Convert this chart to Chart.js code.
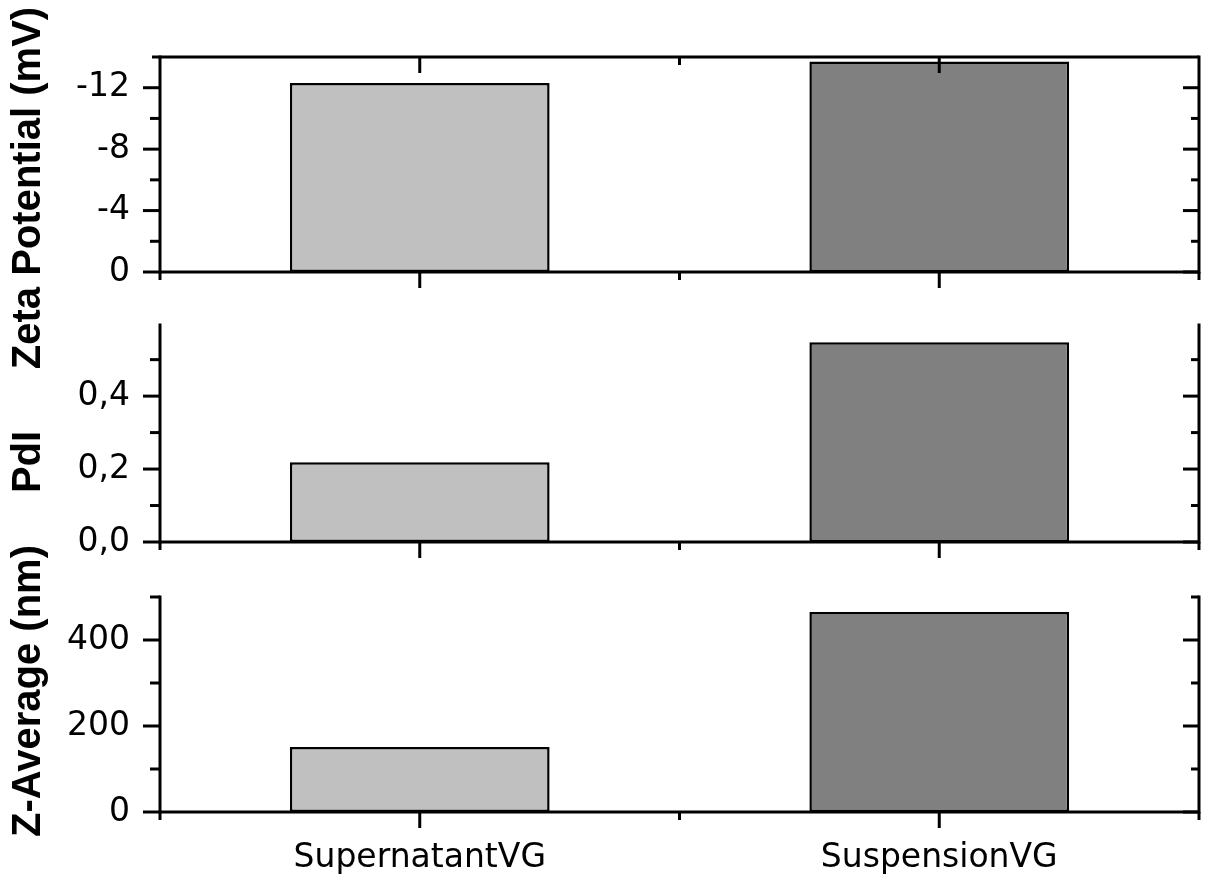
<!DOCTYPE html>
<html>
<head>
<meta charset="utf-8">
<script src="https://cdn.jsdelivr.net/npm/chart.js@4.4.1/dist/chart.umd.min.js"></script>
<style>
  html, body { margin: 0; padding: 0; background: #fff; }
  #wrap { position: relative; width: 1208px; height: 888px; }
  #wrap canvas { position: absolute; left: 0; top: 0; }
</style>
</head>
<body>
<div id="wrap">
  <canvas id="zetaChart" width="1208" height="888"></canvas>
  <canvas id="pdiChart" width="1208" height="888"></canvas>
  <canvas id="zavgChart" width="1208" height="888"></canvas>
</div>
<script>
const samples = ["SupernatantVG", "SuspensionVG"];
const barColors = ["#c0c0c0", "#808080"];

const zetaValues = [-12.3, -13.7];
const zetaTicks = [0, -4, -8, -12];
const zetaMinor = [-2, -6, -10];

const pdiValues = [0.219, 0.548];
const pdiTicks = [0, 0.2, 0.4];
const pdiMinor = [0.1, 0.3, 0.5];

const zavgValues = [151, 465];
const zavgTicks = [0, 200, 400];
const zavgMinor = [100, 300, 500];

const W = 1208, H = 888;
const plotLeft = 160, plotRight = 1199;

Chart.defaults.font.family = "'DejaVu Sans', sans-serif";
Chart.defaults.color = "#000";

// frame, inward/outward ticks and the rotated y title
const frameTicks = {
  id: "frameTicks",
  afterDatasetsDraw(chart, args, opts) {
    const { ctx, chartArea: a } = chart;
    const x = chart.scales.x, y = chart.scales.y;
    ctx.save();
    ctx.strokeStyle = "#000";
    ctx.lineWidth = 3;
    const line = (x1, y1, x2, y2) => {
      ctx.beginPath();
      ctx.moveTo(x1, y1);
      ctx.lineTo(x2, y2);
      ctx.stroke();
    };
    line(a.left, a.top - 1.5, a.left, a.bottom + 1.5);
    line(a.right, a.top - 1.5, a.right, a.bottom + 1.5);
    line(a.left, a.bottom, a.right, a.bottom);
    if (opts.topBorder) line(a.left - 8, a.top, a.right, a.top);

    y.ticks.forEach(t => {
      const py = y.getPixelForValue(t.value);
      line(a.left - 17, py, a.left, py);
      line(a.right - 16, py, a.right, py);
    });
    opts.minor.forEach(v => {
      const py = y.getPixelForValue(v);
      line(a.left - 10, py, a.left, py);
      line(a.right - 8, py, a.right, py);
    });

    samples.forEach((s, i) => {
      const px = x.getPixelForValue(i);
      line(px, a.bottom, px, a.bottom + 16);
      if (opts.topBorder) line(px, a.top, px, a.top + 16);
    });
    for (let i = 0; i <= samples.length; i++) {
      const px = x.getPixelForValue(i - 0.5);
      line(px, a.bottom, px, a.bottom + 8);
      if (opts.topBorder && i > 0 && i < samples.length) line(px, a.top, px, a.top + 8);
    }

    ctx.translate(40, opts.titleY);
    ctx.rotate(-Math.PI / 2);
    ctx.fillStyle = "#000";
    ctx.font = "bold 40px 'Liberation Sans', Arial, sans-serif";
    ctx.textAlign = "center";
    ctx.textBaseline = "alphabetic";
    ctx.fillText(opts.title, 0, 0);
    ctx.restore();
  }
};

function makePanel(id, p) {
  const showX = !!p.showLabels;
  return new Chart(document.getElementById(id), {
    type: "bar",
    data: {
      labels: samples,
      datasets: [{
        data: p.values,
        backgroundColor: barColors,
        borderColor: "#000",
        borderWidth: 2.5,
        borderSkipped: false,
        barPercentage: 0.5,
        categoryPercentage: 1.0
      }]
    },
    options: {
      responsive: false,
      animation: false,
      events: [],
      layout: {
        padding: { top: p.top, right: W - plotRight, bottom: showX ? 0 : H - p.bottom, left: 0 }
      },
      plugins: {
        legend: { display: false },
        tooltip: { enabled: false },
        frameTicks: { topBorder: !!p.topBorder, minor: p.minor, title: p.title, titleY: p.titleY }
      },
      scales: {
        x: {
          display: showX,
          grid: { display: false, drawTicks: false },
          border: { display: false },
          ticks: { font: { size: 33 }, padding: 27, maxRotation: 0 },
          afterFit: s => { if (showX) s.height = H - p.bottom; }
        },
        y: {
          min: p.min,
          max: p.max,
          reverse: !!p.reverse,
          grid: { display: false, drawTicks: false },
          border: { display: false },
          ticks: {
            font: { size: 33 },
            padding: 30,
            callback: p.format
          },
          afterBuildTicks: s => { s.ticks = p.ticks.map(v => ({ value: v })); },
          afterFit: s => { s.width = plotLeft; }
        }
      }
    },
    plugins: [frameTicks]
  });
}

makePanel("zetaChart", {
  values: zetaValues, ticks: zetaTicks, minor: zetaMinor,
  min: -14, max: 0, reverse: true, top: 57, bottom: 272, topBorder: true,
  title: "Zeta Potential (mV)", titleY: 188,
  format: v => String(v)
});

makePanel("pdiChart", {
  values: pdiValues, ticks: pdiTicks, minor: pdiMinor,
  min: 0, max: 0.595, top: 325, bottom: 542,
  title: "PdI", titleY: 462,
  format: v => v.toFixed(1).replace(".", ",")
});

makePanel("zavgChart", {
  values: zavgValues, ticks: zavgTicks, minor: zavgMinor,
  min: 0, max: 500, top: 597, bottom: 812, showLabels: true,
  title: "Z-Average (nm)", titleY: 691,
  format: v => String(v)
});
</script>
</body>
</html>
